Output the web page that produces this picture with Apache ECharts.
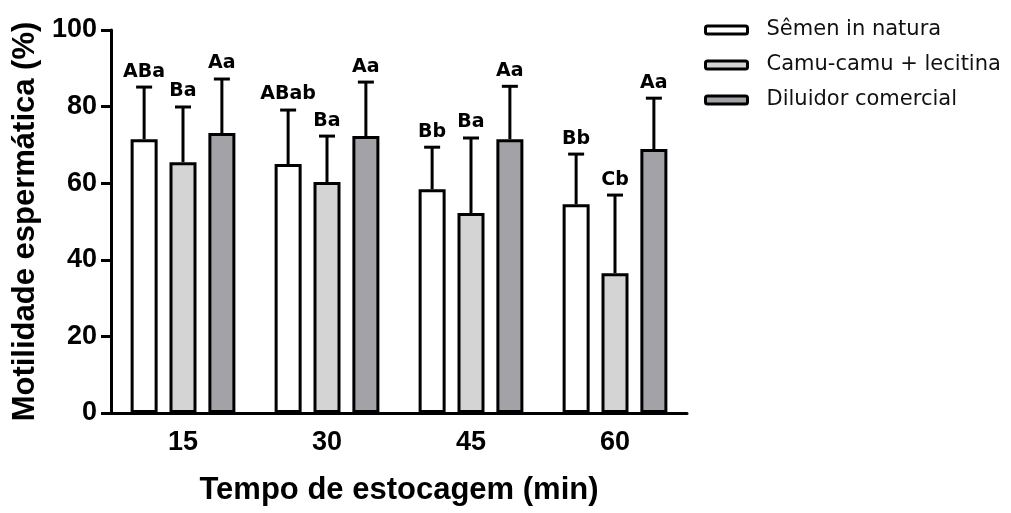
<!DOCTYPE html>
<html>
<head>
<meta charset="utf-8">
<script src="https://cdn.jsdelivr.net/npm/echarts@6/dist/echarts.min.js"></script>
<style>
  html, body { margin: 0; padding: 0; background: #fff; }
  #chart { width: 1011px; height: 513px; }
</style>
</head>
<body>
<div id="chart"></div>
<script>
const categories = ['15', '30', '45', '60'];
const seriesNames = ['Sêmen in natura', 'Camu-camu + lecitina', 'Diluidor comercial'];
const seriesColors = ['#ffffff', '#d4d4d4', '#a3a3a7'];

// means, standard deviations and letters per storage time
const semenMean = [71.5, 65.0, 58.4, 54.5];
const semenSd = [13.6, 14.1, 11.0, 13.1];
const semenLetters = ['ABa', 'ABab', 'Bb', 'Bb'];

const camuMean = [65.5, 60.3, 52.2, 36.5];
const camuSd = [14.4, 12.0, 19.6, 20.4];
const camuLetters = ['Ba', 'Ba', 'Ba', 'Cb'];

const diluMean = [73.1, 72.3, 71.5, 68.9];
const diluSd = [14.1, 14.1, 13.8, 13.3];
const diluLetters = ['Aa', 'Aa', 'Aa', 'Aa'];

const means = [semenMean, camuMean, diluMean];
const sds = [semenSd, camuSd, diluSd];
const letters = [semenLetters, camuLetters, diluLetters];

const BAR_W = 27;
const BAR_GAP = 0.44;
const axisFont = 'Liberation Sans, Arial, sans-serif';

const chart = echarts.init(document.getElementById('chart'));

const barSeries = seriesNames.map((name, i) => ({
  name: name,
  type: 'bar',
  data: means[i],
  barWidth: BAR_W,
  barGap: (BAR_GAP * 100) + '%',
  itemStyle: { color: seriesColors[i], borderColor: '#000', borderWidth: 3 },
  z: 2
}));

const errSeries = seriesNames.map((name, i) => ({
  name: name + ' err',
  type: 'custom',
  z: 3,
  data: categories.map((c, k) => [k, means[i][k], sds[i][k], letters[i][k]]),
  renderItem: (params, api) => {
    const k = api.value(0);
    const m = api.value(1);
    const s = api.value(2);
    const off = (i - 1) * BAR_W * (1 + BAR_GAP);
    const x = api.coord([k, 0])[0] + off;
    const y0 = api.coord([k, m])[1];
    const y1 = api.coord([k, m + s])[1];
    const st = { stroke: '#000', lineWidth: 3 };
    return {
      type: 'group',
      children: [
        { type: 'line', shape: { x1: x, y1: y0, x2: x, y2: y1 }, style: st },
        { type: 'line', shape: { x1: x - 8, y1: y1, x2: x + 8, y2: y1 }, style: st },
        {
          type: 'text',
          x: x, y: y1 - 6,
          style: {
            text: letters[i][k],
            fill: '#000',
            font: 'bold 19px "DejaVu Sans", sans-serif',
            textAlign: 'center',
            textVerticalAlign: 'bottom'
          }
        }
      ]
    };
  }
}));

chart.setOption({
  animation: false,
  backgroundColor: '#fff',
  grid: { left: 111, right: 324, top: 30, bottom: 100 },
  legend: {
    data: seriesNames,
    orient: 'vertical',
    left: 699,
    top: 13,
    itemWidth: 42,
    itemHeight: 8,
    itemGap: 11,
    icon: 'roundRect',
    itemStyle: { borderColor: '#000', borderWidth: 3 },
    textStyle: {
      fontFamily: 'DejaVu Sans, sans-serif',
      fontSize: 21,
      color: '#111',
      lineHeight: 24,
      padding: [0, 0, 0, 14]
    }
  },
  xAxis: {
    type: 'category',
    data: categories,
    name: 'Tempo de estocagem (min)',
    nameLocation: 'middle',
    nameGap: 62,
    nameTextStyle: { fontFamily: axisFont, fontWeight: 'bold', fontSize: 31, color: '#000' },
    axisLine: { lineStyle: { color: '#000', width: 3 } },
    axisTick: { alignWithLabel: true, length: 10, lineStyle: { color: '#000', width: 3 } },
    axisLabel: { fontFamily: axisFont, fontWeight: 'bold', fontSize: 27, color: '#000', margin: 16 }
  },
  yAxis: {
    type: 'value',
    min: 0,
    max: 100,
    interval: 20,
    name: 'Motilidade espermática (%)',
    nameLocation: 'middle',
    nameGap: 66,
    nameTextStyle: { fontFamily: axisFont, fontWeight: 'bold', fontSize: 31, color: '#000' },
    splitLine: { show: false },
    axisLine: { show: true, lineStyle: { color: '#000', width: 3 } },
    axisTick: { show: true, length: 10, lineStyle: { color: '#000', width: 3 } },
    axisLabel: { fontFamily: axisFont, fontWeight: 'bold', fontSize: 27, color: '#000', margin: 14 }
  },
  series: barSeries.concat(errSeries)
});
</script>
</body>
</html>
